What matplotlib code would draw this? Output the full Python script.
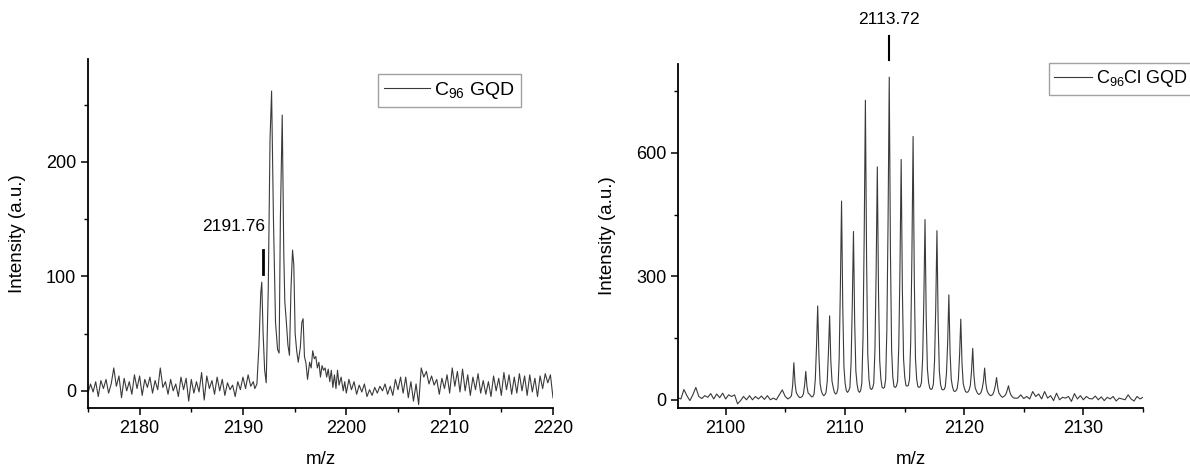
import numpy as np
import matplotlib
matplotlib.use("Agg")
import matplotlib.pyplot as plt
from matplotlib.ticker import MultipleLocator

plt.rcParams['font.family'] = ['Liberation Sans', 'DejaVu Sans']
plt.rcParams['mathtext.fontset'] = 'custom'
plt.rcParams['mathtext.rm'] = 'Liberation Sans'
plt.rcParams['mathtext.it'] = 'Liberation Sans'
plt.rcParams['font.size'] = 12

# ---- C96 GQD spectrum (left) ----
# baseline noise before the cluster, sampled every 0.25 from 2175.00
c96_noise_a = [-2, 6, -1, 8, -5, 9, 2, 10, -2, 6, 20, 4, 13, -6, 11, 0,
               8, -3, 14, 2, 13, -4, 10, 3, 12, -2, 9, 1, 20, 3, 8, -3,
               10, 0, 6, -5, 12, 1, 11, -9, 10, -2, 8, -1, 16, -8, 13, 2,
               9, -3, 12, 0, 10, -4, 7, 1, 5, -5, 8, 1, 12, 2, 14, 4, 8]
# isotope cluster, read point by point
c96_peak_mz = [2191.15, 2191.35, 2191.55, 2191.72, 2191.82, 2191.95, 2192.10, 2192.25,
               2192.45, 2192.62, 2192.77, 2192.95, 2193.15, 2193.35, 2193.50, 2193.62,
               2193.80, 2193.95, 2194.05, 2194.20, 2194.35, 2194.50, 2194.65, 2194.80,
               2194.92, 2195.05, 2195.20, 2195.35, 2195.55, 2195.70, 2195.82, 2195.95,
               2196.10, 2196.25, 2196.45, 2196.60, 2196.75, 2196.90, 2197.05, 2197.20,
               2197.35, 2197.50, 2197.65, 2197.80, 2197.95, 2198.10, 2198.25, 2198.40,
               2198.55, 2198.70, 2198.85, 2199.00, 2199.15, 2199.30, 2199.50, 2199.70,
               2199.85]
c96_peak_int = [2, 6, 40, 85, 95, 50, 18, 7,
                90, 220, 262, 150, 60, 36, 33, 150,
                241, 120, 78, 60, 40, 31, 90, 123,
                110, 50, 35, 25, 38, 60, 63, 30,
                24, 10, 25, 20, 35, 28, 30, 20,
                25, 12, 22, 18, 20, 12, 19, 8,
                18, 3, 14, 2, 18, 5, 12, 0,
                8]
# baseline noise after the cluster, sampled every 0.25 from 2200.00
c96_noise_b = [-2, 10, 1, 8, -3, 5, -1, 6, -5, 1, -4, 3, -2, 4, 0, 6,
               -3, 4, -4, 10, 1, 12, -2, 12, -6, 8, -9, 6, -12, 20, 12, 17,
               6, 13, 5, 10, -3, 11, 2, 14, -2, 20, 4, 17, -1, 19, 0, 14,
               -4, 12, 1, 15, -2, 9, -3, 8, -5, 13, 0, 11, -4, 16, 1, 14,
               -3, 12, -2, 15, 0, 13, -4, 14, -1, 11, -5, 13, 2, 15, 7, 14,
               -6]

# ---- C96Cl GQD spectrum (right) ----
c96cl_noise_a = [5, 2, 25, 10, -2, 12, 30, 8, 3, 10, 6, 15, 2, 14, 5, 16,
                 2, 12, 8, 12, -10, -2, 8, 0, 10, 0, 8, 2, 9, 1, 10, 0,
                 4, 0, 12, 24, 8]
# cluster sampled every 0.1 from 2105.22, one row per isotope peak (2105.72 ... 2123.72)
c96cl_peaks = [
    [2, 4, 6, 10, 35, 90, 40, 18, 12, 8],
    [5, 6, 8, 14, 35, 69, 32, 16, 14, 10],
    [7, 8, 15, 50, 130, 228, 110, 40, 22, 14],
    [10, 12, 18, 45, 115, 204, 95, 45, 30, 18],
    [14, 16, 28, 100, 270, 483, 230, 80, 40, 22],
    [18, 22, 30, 90, 230, 409, 190, 70, 38, 22],
    [18, 22, 40, 150, 400, 728, 340, 110, 50, 28],
    [25, 28, 40, 120, 310, 566, 260, 95, 50, 30],
    [28, 30, 50, 170, 430, 784, 360, 120, 55, 32],
    [30, 33, 45, 130, 320, 584, 270, 100, 55, 35],
    [33, 35, 50, 140, 350, 640, 295, 100, 50, 32],
    [30, 32, 42, 100, 240, 438, 200, 75, 42, 28],
    [25, 27, 38, 95, 225, 411, 190, 70, 38, 26],
    [24, 25, 32, 65, 140, 255, 115, 50, 32, 22],
    [20, 22, 28, 50, 110, 196, 90, 40, 28, 20],
    [18, 19, 24, 35, 70, 125, 60, 30, 22, 16],
    [13, 14, 18, 28, 45, 77, 40, 22, 16, 12],
    [10, 11, 14, 22, 35, 54, 30, 16, 12, 8],
    [6, 8, 10, 15, 24, 34, 20, 12, 8, 5],
    [4],
]
c96cl_noise_b = [4, 12, 3, 8, 2, 20, 8, 14, 2, 20, 4, 10, -2, 16, 0, 6,
                 4, 8, -4, 15, 2, 10, 0, 8, 3, 2, 9, 0, 7, -2, 6, 2,
                 8, -3, 4, 2, 0, 12, 2, -3, 8, 2, 6]

# assemble m/z axes
mz1 = np.concatenate([2175.0 + 0.25 * np.arange(len(c96_noise_a)),
                      c96_peak_mz,
                      2200.0 + 0.25 * np.arange(len(c96_noise_b))])
int1 = np.concatenate([c96_noise_a, c96_peak_int, c96_noise_b])

cl_flat = [v for row in c96cl_peaks for v in row]
mz2 = np.concatenate([2096.0 + 0.25 * np.arange(len(c96cl_noise_a)),
                      2105.22 + 0.1 * np.arange(len(cl_flat)),
                      2124.5 + 0.25 * np.arange(len(c96cl_noise_b))])
int2 = np.concatenate([c96cl_noise_a, cl_flat, c96cl_noise_b])

fig = plt.figure(figsize=(11.9, 4.68), dpi=100)
ax1 = fig.add_axes([0.0739, 0.1282, 0.3908, 0.7457])
ax2 = fig.add_axes([0.5697, 0.1282, 0.3908, 0.7350])

line_col = '#3a3a3a'

def style(ax):
    for s in ['top', 'right']:
        ax.spines[s].set_visible(False)
    for s in ['left', 'bottom']:
        ax.spines[s].set_linewidth(1.3)
    ax.tick_params(which='major', direction='out', length=5, width=1.1, labelsize=13)
    ax.tick_params(which='minor', direction='out', length=3, width=1.0)
    ax.set_xlabel('m/z', fontsize=13.5, labelpad=10)
    ax.set_ylabel('Intensity (a.u.)', fontsize=13.5, labelpad=14)

ax1.plot(mz1, int1, color=line_col, lw=0.8, label=r'C$_{96}$ GQD')
ax1.set_xlim(2175, 2220)
ax1.set_ylim(-15, 290)
ax1.xaxis.set_major_locator(MultipleLocator(10))
ax1.xaxis.set_minor_locator(MultipleLocator(5))
ax1.yaxis.set_major_locator(MultipleLocator(100))
ax1.yaxis.set_minor_locator(MultipleLocator(50))
style(ax1)
ax1.plot([2191.92, 2191.92], [102, 123], color='black', lw=2)
ax1.text(2189.1, 144, '2191.76', ha='center', va='center', fontsize=12.5)
leg1 = ax1.legend(loc='upper right', bbox_to_anchor=(0.931, 0.957), fancybox=False,
                  handlelength=2.4, handletextpad=0.2, borderpad=0.3,
                  borderaxespad=0, fontsize=14)
leg1.get_frame().set_edgecolor('#8a8a8a')
leg1.get_frame().set_linewidth(1.0)

ax2.plot(mz2, int2, color=line_col, lw=0.8, label=r'C$_{96}$Cl GQD')
ax2.set_xlim(2096, 2135)
ax2.set_ylim(-20, 816)
ax2.xaxis.set_major_locator(MultipleLocator(10))
ax2.xaxis.set_minor_locator(MultipleLocator(5))
ax2.yaxis.set_major_locator(MultipleLocator(300))
ax2.yaxis.set_minor_locator(MultipleLocator(150))
style(ax2)
ax2.plot([2113.72, 2113.72], [826, 884], color='black', lw=1.5, clip_on=False)
ax2.text(2113.72, 925, '2113.72', ha='center', va='center', fontsize=12.5, clip_on=False)
leg2 = ax2.legend(loc='upper left', bbox_to_anchor=(0.798, 1.003), fancybox=False,
                  handlelength=2.1, handletextpad=0.2, borderpad=0.3,
                  borderaxespad=0, fontsize=13)
leg2.get_frame().set_edgecolor('#8a8a8a')
leg2.get_frame().set_linewidth(1.0)

fig.savefig('out.png', dpi=100)
